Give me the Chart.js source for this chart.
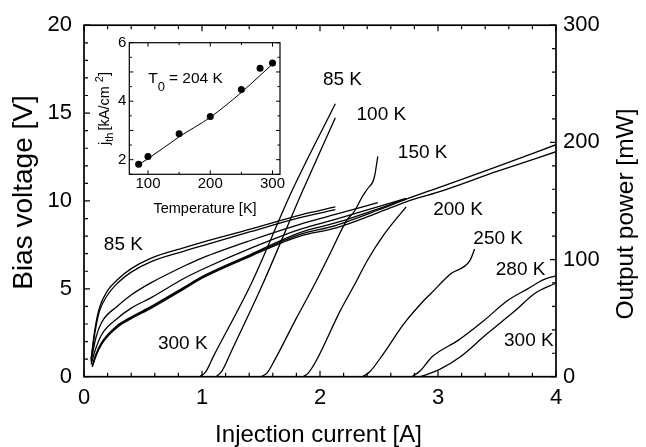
<!DOCTYPE html>
<html>
<head>
<meta charset="utf-8">
<script src="https://cdn.jsdelivr.net/npm/chart.js@4.4.1/dist/chart.umd.min.js"></script>
<style>
  html, body { margin: 0; padding: 0; background: #fff; }
  #wrap { position: relative; width: 646px; height: 447px; }
  #mainChart { position: absolute; left: 0; top: 0; width: 646px; height: 447px; }
  #insetChart { position: absolute; left: 92px; top: 30px; width: 200px; height: 192px; }
</style>
</head>
<body>
<div id="wrap">
  <canvas id="mainChart" width="646" height="447"></canvas>
  <canvas id="insetChart" width="200" height="192"></canvas>
</div>
<script>
// ---- data ----
// bias voltage [V] vs injection current [A]
const vi85  = [[0.06,1.0],[0.09,2.6],[0.13,3.9],[0.2,4.9],[0.28,5.5],[0.4,6.15],[0.57,6.75],[0.85,7.35],[1.0,7.65],[1.41,8.4],[1.83,9.2],[2.13,9.66]];
const vi100 = [[0.06,0.95],[0.09,2.4],[0.13,3.7],[0.2,4.65],[0.28,5.3],[0.4,5.95],[0.57,6.55],[0.85,7.15],[1.0,7.45],[1.41,8.25],[1.83,9.05],[2.13,9.5]];
const vi150 = [[0.06,0.85],[0.1,2.2],[0.15,3.1],[0.28,4.0],[0.4,4.65],[0.57,5.35],[0.85,6.3],[1.0,6.75],[1.41,7.75],[1.83,8.67],[2.13,9.23],[2.49,9.9]];
const vi200 = [[0.06,0.7],[0.1,1.6],[0.15,2.4],[0.28,3.3],[0.4,3.9],[0.57,4.5],[0.85,5.6],[1.0,6.1],[1.41,7.3],[1.83,8.38],[2.13,8.95],[2.73,10.15]];
const vi250 = [[0.07,0.6],[0.1,1.25],[0.15,1.95],[0.28,2.9],[0.4,3.4],[0.57,4.0],[0.85,5.1],[1.0,5.7],[1.41,6.95],[1.83,8.2],[2.13,8.75],[2.73,10.1]];
const vi280 = [[0.07,0.6],[0.1,1.2],[0.15,1.9],[0.28,2.85],[0.4,3.35],[0.57,3.95],[0.85,5.05],[1.0,5.65],[1.41,6.9],[1.83,8.1],[2.13,8.6],[2.5,9.5],[2.73,10.1],[3.0,10.75],[3.5,11.95],[4.0,13.2]];
const vi300 = [[0.07,0.55],[0.1,1.15],[0.15,1.85],[0.28,2.8],[0.4,3.3],[0.57,3.9],[0.85,5.0],[1.0,5.6],[1.41,6.85],[1.83,8.0],[2.13,8.45],[2.5,9.35],[2.73,9.95],[3.0,10.5],[3.5,11.68],[4.0,12.8]];

// output power [mW] vs injection current [A]
const li85  = [[0.98,0],[1.03,4],[1.1,18],[1.42,80],[1.76,158],[2.13,233]];
const li100 = [[1.12,0],[1.17,5],[1.25,22],[1.51,78],[1.85,158],[2.13,221]];
const li150 = [[1.5,0],[1.55,3],[1.62,15],[1.8,50],[1.95,78],[2.09,106],[2.23,134],[2.29,141],[2.36,154],[2.4,160],[2.46,170],[2.49,188]];
const li200 = [[1.86,0],[1.9,3],[1.97,14],[2.17,56],[2.29,78],[2.4,99],[2.54,121],[2.73,145]];
const li250 = [[2.36,0],[2.42,4],[2.54,20],[2.71,45],[2.88,65],[2.94,71],[3.11,88],[3.27,99],[3.31,109]];
const li280 = [[2.78,0],[2.85,5],[2.95,17],[3.17,31],[3.39,48],[3.59,65],[3.76,75],[3.9,83],[4.0,86]];
const li300 = [[2.85,0],[3.01,6],[3.19,17],[3.42,37],[3.65,56],[3.82,71],[4.0,80]];

// inset: threshold current density vs temperature
const insetTemps = [85, 100, 150, 200, 250, 280, 300];
const insetJth   = [1.84, 2.11, 2.89, 3.48, 4.4, 5.13, 5.31];
const fitTemps   = [85, 100, 150, 200, 250, 280, 300];
const fitJth     = [1.83, 2.03, 2.78, 3.45, 4.3, 4.88, 5.27];

// tick labels
const xTicks = [0, 1, 2, 3, 4];
const vTicks = [0, 5, 10, 15, 20];
const pTicks = [0, 100, 200, 300];
const insetXTicks = [100, 200, 300];
const insetYTicks = [2, 4, 6];

const FONT = "'Liberation Sans', Arial, Helvetica, sans-serif";

function toPoints(arr) {
    return arr.map(p => ({ x: p[0], y: p[1] }));
}

function curve(arr, axis) {
    return {
        data: toPoints(arr),
        yAxisID: axis,
        showLine: true,
        borderColor: '#000',
        borderWidth: 1.3,
        pointRadius: 0,
        fill: false,
        cubicInterpolationMode: 'monotone'
    };
}

function fixedTicks(list) {
    return scale => { scale.ticks = list.map(v => ({ value: v })); };
}

// draw text made of runs (for sub/superscripts)
function drawRuns(ctx, runs, x, y, align) {
    let total = 0;
    runs.forEach(r => {
        ctx.font = r.size + 'px ' + FONT;
        total += ctx.measureText(r.text).width + (r.gap || 0);
    });
    let cx = align === 'center' ? x - total / 2 : x;
    ctx.textAlign = 'left';
    ctx.textBaseline = 'alphabetic';
    runs.forEach(r => {
        ctx.font = r.size + 'px ' + FONT;
        ctx.fillText(r.text, cx, y + (r.dy || 0));
        cx += ctx.measureText(r.text).width + (r.gap || 0);
    });
}

// inward tick marks + frame
const insideTicks = {
    id: 'insideTicks',
    afterDraw(chart, args, opts) {
        const { ctx, chartArea: a } = chart;
        ctx.save();
        ctx.strokeStyle = '#000';
        ctx.lineWidth = opts.tickWidth;
        ctx.beginPath();
        opts.marks.forEach(m => {
            const sc = chart.scales[m.scale];
            const n0 = Math.ceil(sc.min / m.step - 1e-9);
            const n1 = Math.floor(sc.max / m.step + 1e-9);
            for (let n = n0; n <= n1; n++) {
                const v = n * m.step;
                const r = v / m.major;
                const len = Math.abs(r - Math.round(r)) < 1e-6 ? opts.majorLen : opts.minorLen;
                const p = sc.getPixelForValue(v);
                m.sides.forEach(side => {
                    if (side === 'bottom') { ctx.moveTo(p, a.bottom); ctx.lineTo(p, a.bottom - len); }
                    if (side === 'top') { ctx.moveTo(p, a.top); ctx.lineTo(p, a.top + len); }
                    if (side === 'left') { ctx.moveTo(a.left, p); ctx.lineTo(a.left + len, p); }
                    if (side === 'right') { ctx.moveTo(a.right, p); ctx.lineTo(a.right - len, p); }
                });
            }
        });
        ctx.stroke();
        ctx.lineWidth = opts.frameWidth;
        ctx.strokeRect(a.left, a.top, a.right - a.left, a.bottom - a.top);
        ctx.restore();
    }
};

// curve labels and axis titles of the main plot
const curveLabels = [
    { text: '85 K', x: 2.19, y: 253.6, axis: 'y2' },
    { text: '100 K', x: 2.52, y: 223.9, axis: 'y2' },
    { text: '150 K', x: 2.87, y: 191.3, axis: 'y2' },
    { text: '200 K', x: 3.17, y: 142.7, axis: 'y2' },
    { text: '250 K', x: 3.51, y: 117.3, axis: 'y2' },
    { text: '280 K', x: 3.70, y: 91.3, axis: 'y2' },
    { text: '300 K', x: 3.77, y: 30.3, axis: 'y2' },
    { text: '85 K', x: 0.334, y: 7.5, axis: 'y' },
    { text: '300 K', x: 0.837, y: 1.9, axis: 'y' }
];

const mainText = {
    id: 'mainText',
    afterDraw(chart) {
        const { ctx, scales } = chart;
        ctx.save();
        ctx.fillStyle = '#000';
        ctx.font = '19px ' + FONT;
        ctx.textAlign = 'center';
        ctx.textBaseline = 'middle';
        curveLabels.forEach(l => {
            ctx.fillText(l.text, scales.x.getPixelForValue(l.x), scales[l.axis].getPixelForValue(l.y));
        });

        ctx.font = '24px ' + FONT;
        ctx.textBaseline = 'alphabetic';
        ctx.fillText('Injection current [A]', 318.5, 442);

        ctx.save();
        ctx.translate(31.5, 192.5);
        ctx.rotate(-Math.PI / 2);
        ctx.font = '28px ' + FONT;
        ctx.fillText('Bias voltage [V]', 0, 0);
        ctx.restore();

        ctx.save();
        ctx.translate(633, 214);
        ctx.rotate(-Math.PI / 2);
        ctx.font = '24.5px ' + FONT;
        ctx.fillText('Output power [mW]', 0, 0);
        ctx.restore();
        ctx.restore();
    }
};

const mainChart = new Chart(document.getElementById('mainChart'), {
    type: 'scatter',
    data: {
        datasets: [
            curve(vi85, 'y'), curve(vi100, 'y'), curve(vi150, 'y'), curve(vi200, 'y'),
            curve(vi250, 'y'), curve(vi280, 'y'), curve(vi300, 'y'),
            curve(li85, 'y2'), curve(li100, 'y2'), curve(li150, 'y2'), curve(li200, 'y2'),
            curve(li250, 'y2'), curve(li280, 'y2'), curve(li300, 'y2')
        ]
    },
    options: {
        responsive: false,
        animation: false,
        layout: { padding: { top: 22.7, left: 0, right: 0, bottom: 0 } },
        plugins: {
            legend: { display: false },
            tooltip: { enabled: false },
            insideTicks: {
                tickWidth: 1.2, frameWidth: 1.7, majorLen: 6, minorLen: 4,
                marks: [
                    { scale: 'x', step: 0.2, major: 1, sides: ['bottom', 'top'] },
                    { scale: 'y', step: 1, major: 5, sides: ['left'] },
                    { scale: 'y2', step: 20, major: 100, sides: ['right'] }
                ]
            }
        },
        scales: {
            x: {
                type: 'linear', min: 0, max: 4,
                afterBuildTicks: fixedTicks(xTicks),
                ticks: { font: { family: FONT, size: 22 }, color: '#000', padding: 8, maxRotation: 0 },
                grid: { display: false, drawTicks: false },
                border: { display: false },
                afterFit: s => { s.height = 70.3; }
            },
            y: {
                type: 'linear', position: 'left', min: 0, max: 20,
                afterBuildTicks: fixedTicks(vTicks),
                ticks: { font: { family: FONT, size: 22 }, color: '#000', padding: 12 },
                grid: { display: false, drawTicks: false },
                border: { display: false },
                afterFit: s => { s.width = 84; }
            },
            y2: {
                type: 'linear', position: 'right', min: 0, max: 300,
                afterBuildTicks: fixedTicks(pTicks),
                ticks: { font: { family: FONT, size: 22 }, color: '#000', padding: 7 },
                grid: { display: false, drawTicks: false },
                border: { display: false },
                afterFit: s => { s.width = 90; }
            }
        }
    },
    plugins: [insideTicks, mainText]
});

// inset titles and T0 note
const insetText = {
    id: 'insetText',
    afterDraw(chart) {
        const { ctx, scales } = chart;
        ctx.save();
        ctx.fillStyle = '#000';
        ctx.font = '14.5px ' + FONT;
        ctx.textAlign = 'center';
        ctx.textBaseline = 'alphabetic';
        ctx.fillText('Temperature [K]', 113, 183);

        const tx = scales.x.getPixelForValue(100.5);
        const ty = scales.y.getPixelForValue(4.62);
        drawRuns(ctx, [
            { text: 'T', size: 15.5 },
            { text: '0', size: 13, dy: 8, gap: 4 },
            { text: '= 204 K', size: 15.5 }
        ], tx, ty, 'left');

        ctx.save();
        ctx.translate(17, 78.5);
        ctx.rotate(-Math.PI / 2);
        drawRuns(ctx, [
            { text: 'j', size: 14.5 },
            { text: 'th', size: 11, dy: 4, gap: 2 },
            { text: '[kA/cm ', size: 14.5 },
            { text: '2', size: 11, dy: -6 },
            { text: ']', size: 14.5 }
        ], 0, 0, 'center');
        ctx.restore();
        ctx.restore();
    }
};

const insetChart = new Chart(document.getElementById('insetChart'), {
    type: 'scatter',
    data: {
        datasets: [
            {
                data: insetTemps.map((t, i) => ({ x: t, y: insetJth[i] })),
                showLine: false,
                pointRadius: 3.5,
                pointBackgroundColor: '#000',
                pointBorderColor: '#000',
                pointBorderWidth: 0
            },
            {
                data: fitTemps.map((t, i) => ({ x: t, y: fitJth[i] })),
                showLine: true,
                borderColor: '#000',
                borderWidth: 1,
                pointRadius: 0,
                cubicInterpolationMode: 'monotone'
            }
        ]
    },
    options: {
        responsive: false,
        animation: false,
        layout: { padding: { top: 12.7, right: 12, left: 0, bottom: 0 } },
        plugins: {
            legend: { display: false },
            tooltip: { enabled: false },
            insideTicks: {
                tickWidth: 1, frameWidth: 1.2, majorLen: 4, minorLen: 2.5,
                marks: [
                    { scale: 'x', step: 50, major: 100, sides: ['bottom', 'top'] },
                    { scale: 'y', step: 0.5, major: 1, sides: ['left', 'right'] }
                ]
            }
        },
        scales: {
            x: {
                type: 'linear', min: 70, max: 312,
                afterBuildTicks: fixedTicks(insetXTicks),
                ticks: { font: { family: FONT, size: 15 }, color: '#000', padding: 1, maxRotation: 0 },
                grid: { display: false, drawTicks: false },
                border: { display: false },
                afterFit: s => { s.height = 47.7; }
            },
            y: {
                type: 'linear', min: 1.5, max: 6,
                afterBuildTicks: fixedTicks(insetYTicks),
                ticks: { font: { family: FONT, size: 15 }, color: '#000', padding: 3 },
                grid: { display: false, drawTicks: false },
                border: { display: false },
                afterFit: s => { s.width = 37.3; }
            }
        }
    },
    plugins: [insideTicks, insetText]
});
</script>
</body>
</html>
